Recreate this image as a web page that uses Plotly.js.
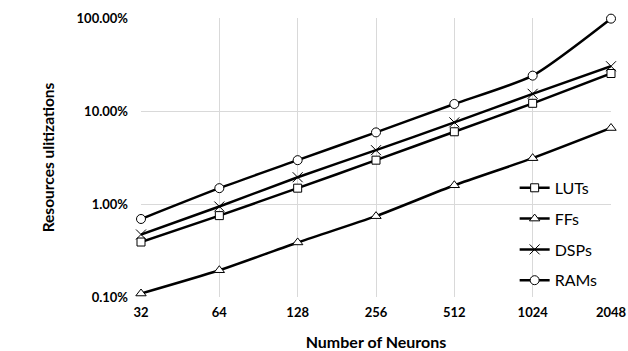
<!DOCTYPE html>
<html>
<head>
<meta charset="utf-8">
<script src="https://cdn.plot.ly/plotly-3.0.1.min.js"></script>
<style>html,body{margin:0;padding:0;background:#fff;}#chart{width:628px;height:351px;}</style>
</head>
<body>
<div id="chart"></div>
<script>
const neurons = ['32', '64', '128', '256', '512', '1024', '2048'];
const luts = [0.39, 0.75, 1.48, 2.96, 5.98, 12.1, 25.3];
const ffs  = [0.109, 0.194, 0.386, 0.74, 1.59, 3.11, 6.56];
const dsps = [0.47, 0.94, 1.94, 3.79, 7.55, 15.3, 30.3];
const rams = [0.69, 1.48, 2.96, 5.89, 11.9, 24.0, 98.4];
const yTickVals = [0.1, 1, 10, 100];
const yTickText = ['0.10%', '1.00%', '10.00%', '100.00%'];

function mk(name, y, symbol, size) {
  return {
    x: neurons, y: y, name: name, type: 'scatter', mode: 'lines+markers',
    line: {color: '#000', width: 2.5, shape: 'spline', smoothing: 0.6},
    marker: {symbol: symbol, size: size, color: '#fff', line: {color: '#000', width: 1}},
    cliponaxis: false, legendgroup: name
  };
}
const xTrace = mk('DSPs', dsps, 'x-thin-open', 10);
xTrace.marker.color = '#000';
const data = [
  mk('LUTs', luts, 'square', 8),
  mk('FFs', ffs, 'triangle-up', 9),
  xTrace,
  mk('RAMs', rams, 'circle', 9)
];

const fam = 'Lato, "Open Sans", sans-serif';
const tickFont = {family: fam, size: 13, color: '#000', weight: 'bold'};
const layout = {
  width: 628, height: 351,
  margin: {l: 141, r: 17, t: 18, b: 54},
  paper_bgcolor: '#fff', plot_bgcolor: '#fff',
  showlegend: true,
  legend: {
    x: 0.795, y: 0.452, xanchor: 'left', yanchor: 'top',
    font: {family: fam, size: 16, color: '#000'},
    bgcolor: 'rgba(0,0,0,0)', tracegroupgap: 7, traceorder: 'grouped',
    itemwidth: 30
  },
  xaxis: {
    type: 'category', range: [0, 6],
    showgrid: true, gridcolor: '#d9d9d9', gridwidth: 1,
    showline: false, zeroline: false, ticks: '',
    tickfont: tickFont, ticklabelstandoff: 6,
    title: {text: 'Number of Neurons', font: {family: fam, size: 16, color: '#000', weight: 'bold'}, standoff: 17}
  },
  yaxis: {
    type: 'log', range: [-1, 2],
    tickvals: yTickVals, ticktext: yTickText,
    showgrid: true, gridcolor: '#d9d9d9', gridwidth: 1,
    showline: false, zeroline: false, ticks: '',
    tickfont: tickFont, ticklabelstandoff: 12,
    title: {text: 'Resources ulitizations', font: {family: fam, size: 15.5, color: '#000', weight: 'bold'}, standoff: 18}
  }
};
Plotly.newPlot('chart', data, layout, {displayModeBar: false, staticPlot: true});
</script>
</body>
</html>
